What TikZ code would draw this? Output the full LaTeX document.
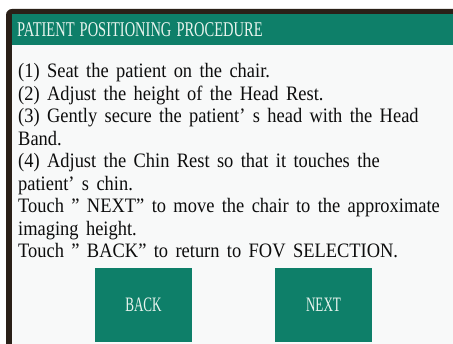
\documentclass[tikz,border=0pt]{standalone}
\usepackage{fontspec}
\setmainfont{Liberation Serif}
\newfontfamily\panelfont[FakeStretch=0.9,WordSpace=1.6]{Liberation Serif}
\newfontfamily\keyfont[FakeStretch=0.64,WordSpace=1.4]{Liberation Serif}
\newfontfamily\titlefont[FakeStretch=0.69,WordSpace=1.4]{Liberation Serif}
\definecolor{bezel}{RGB}{42,32,24}
\definecolor{screengreen}{RGB}{14,127,105}
\definecolor{screenbg}{RGB}{248,249,249}
\definecolor{keytext}{RGB}{232,244,238}
\tikzset{
  stepline/.style={anchor=base west, inner sep=0pt, text=black!95,
    font=\panelfont\fontsize{20.5}{22}\selectfont},
  keybox/.style={fill=screengreen, minimum width=97pt, minimum height=74pt,
    inner sep=0pt, text=keytext, font=\keyfont\fontsize{20.5}{22}\selectfont}}

\begin{document}
\begin{tikzpicture}[x=1pt,y=-1pt]
  \useasboundingbox (0,0) rectangle (453,344);
  \fill[white] (0,0) rectangle (453,344);
  % dark bezel round the screen
  \fill[bezel, rounded corners=6pt] (6,9) rectangle (470,360);
  \fill[screenbg] (12,14) rectangle (453,344);
  % title bar
  \fill[screengreen] (12,14) rectangle (453,45);
  \node[anchor=base west, inner sep=0pt, text=keytext,
        font=\titlefont\fontsize{21}{22}\selectfont] (title) at (17,37)
    {PATIENT POSITIONING PROCEDURE};
  % instructions
  \node[stepline] (seat)   at (18,78)    {(1) Seat the patient on the chair.};
  \node[stepline] (rest)   at (18,100.5) {(2) Adjust the height of the Head Rest.};
  \node[stepline] (band)   at (18,123)   {(3) Gently secure the patient’ s head with the Head};
  \node[stepline] (bandb)  at (18,145.5) {Band.};
  \node[stepline] (chin)   at (18,168)   {(4) Adjust the Chin Rest so that it touches the};
  \node[stepline] (chinb)  at (18,190.5) {patient’ s chin.};
  \node[stepline] (next)   at (18,213)   {Touch ” NEXT” to move the chair to the approximate};
  \node[stepline] (nextb)  at (18,235.5) {imaging height.};
  \node[stepline] (back)   at (18,258)   {Touch ” BACK” to return to FOV SELECTION.};
  % buttons
  \node[keybox] (backkey) at (143.5,305) {BACK};
  \node[keybox] (nextkey) at (323.5,305) {NEXT};
\end{tikzpicture}
\end{document}
